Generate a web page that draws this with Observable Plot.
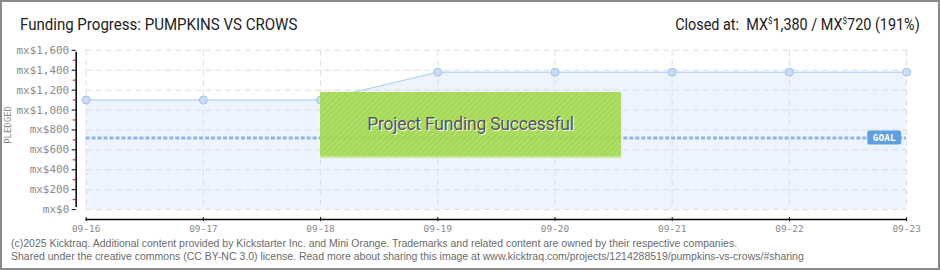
<!DOCTYPE html>
<html><head><meta charset="utf-8">
<script src="https://cdn.jsdelivr.net/npm/d3@7"></script>
<script src="https://cdn.jsdelivr.net/npm/@observablehq/plot@0.6"></script>
<style>
body{margin:0;background:#fff}
#wrap{position:relative;width:940px;height:270px;box-sizing:border-box;border:2px solid #8a8a8a;overflow:hidden;font-family:Roboto,sans-serif}
#chart{position:absolute;left:-2px;top:-2px}
#title{position:absolute;left:18px;top:13px;font-size:16px;color:#222;transform:scaleX(0.94);transform-origin:left center;white-space:nowrap}
#closed{position:absolute;right:18px;top:13px;font-size:16px;color:#222;transform:scaleX(0.9);transform-origin:right center;white-space:nowrap}
#closed sup{font-size:9px;vertical-align:6px}
#banner{position:absolute;left:318px;top:90px;width:301px;height:66px;background:#a5dc4f;opacity:0.93;
 background-image:repeating-linear-gradient(135deg,rgba(255,255,255,0.06) 0 2px,rgba(0,0,0,0.03) 2px 4px);
 border-bottom:2px solid #c6e98f;box-sizing:border-box;display:flex;align-items:center;justify-content:center;
 font-size:17.5px;color:#4a4a4a;text-shadow:1px 1px 0 #fff;letter-spacing:-0.2px}
#footer{position:absolute;left:9px;top:235px;font-family:"Liberation Sans",sans-serif;font-size:10.5px;line-height:12.5px;color:#6b6b6b;white-space:nowrap}
</style></head>
<body>
<div id="wrap">
  <div id="chartholder"></div>
  <div id="title">Funding Progress: PUMPKINS VS CROWS</div>
  <div id="closed">Closed at:&nbsp; MX<sup>$</sup>1,380 / MX<sup>$</sup>720 (191%)</div>
  <div id="banner">Project Funding Successful</div>
  <div id="footer">(c)2025 Kicktraq. Additional content provided by Kickstarter Inc. and Mini Orange. Trademarks and related content are owned by their respective companies.<br>Shared under the creative commons (CC BY-NC 3.0) license. Read more about sharing this image at www.kicktraq.com/projects/1214288519/pumpkins-vs-crows/#sharing</div>
</div>
<script>
const dates = ["2025-09-16","2025-09-17","2025-09-18","2025-09-19","2025-09-20","2025-09-21","2025-09-22","2025-09-23"];
const pledged = [1100,1100,1100,1380,1380,1380,1380,1380];
const goal = 720;
const yTicks = [0,200,400,600,800,1000,1200,1400,1600];
const yMinorTicks = [100,300,500,700,900,1100,1300,1500];
const xTickLabels = ["09-16","09-17","09-18","09-19","09-20","09-21","09-22","09-23"];

const data = dates.map((d,i)=>({date:new Date(d+"T00:00:00Z"), pledged:pledged[i]}));
const xDates = data.map(d=>d.date);
const fmtY = v => "mx$" + d3.format(",")(v);
const fmtX = d => xTickLabels[xDates.findIndex(x=>+x===+d)];

const mono = "DejaVu Sans Mono";
const chart = Plot.plot({
  width: 940, height: 270,
  marginLeft: 86, marginRight: 30, marginTop: 50, marginBottom: 60,
  style: {fontFamily: mono, fontSize: "10px", color:"#888", background:"transparent"},
  x: {type:"utc", domain:[xDates[0], xDates[xDates.length-1]], axis:null},
  y: {domain:[0,1600], axis:null},
  marks: [
    Plot.areaY(data, {x:"date", y:"pledged", fill:"#edf4fd"}),
    Plot.gridY(yTicks, {stroke:"#d9dde3", strokeOpacity:1, strokeDasharray:"6,4"}),
    Plot.gridX(xDates, {stroke:"#d9dde3", strokeOpacity:1, strokeDasharray:"6,4"}),
    Plot.ruleY([goal], {stroke:"#8fb5e2", strokeWidth:3, strokeDasharray:"4,2"}),
    Plot.line(data, {x:"date", y:"pledged", stroke:"#aacbef", strokeWidth:1}),
    Plot.dot(data, {x:"date", y:"pledged", r:4, fill:"#c9def6", stroke:"#9fc1e8", strokeWidth:1}),
    // y axis
    Plot.ruleX([xDates[0]], {y1:0, y2:1600, dx:-10, stroke:"#000", strokeWidth:1.5, insetTop:-2, insetBottom:-2}),
    Plot.axisY(yMinorTicks, {tickSize:3, dx:-10, stroke:"#e00", tickFormat:()=>"", label:null}),
    Plot.axisY(yTicks, {tickSize:4, dx:-10, stroke:"#000", tickFormat:fmtY, tickPadding:3, fill:"#8a8a8a", fontSize:11, label:null}),
    // x axis
    Plot.ruleY([0], {dy:10, stroke:"#000", strokeWidth:1.5}),
    Plot.axisX(xDates, {tickSize:4, dy:8, stroke:"#000", tickFormat:fmtX, tickPadding:4, fill:"#8a8a8a", fontSize:9.5, label:null}),
    Plot.text(["PLEDGED"], {frameAnchor:"left", textAnchor:"middle", dx:-78, dy:-5, rotate:-90, fill:"#888", fontSize:9, fontFamily:mono})
  ]
});
chart.id = "chart";
document.getElementById("chartholder").appendChild(chart);

// GOAL label positioned through the plot's scales
const ys = chart.scale("y"), xs = chart.scale("x");
const gy = ys.apply(goal), xr = xs.apply(xDates[xDates.length-1]);
const ns = "http://www.w3.org/2000/svg";
const g = document.createElementNS(ns,"g");
const r = document.createElementNS(ns,"rect");
r.setAttribute("x", xr-39); r.setAttribute("y", gy-7); r.setAttribute("width",34); r.setAttribute("height",14);
r.setAttribute("rx",2); r.setAttribute("fill","#5d9fe0");
const t = document.createElementNS(ns,"text");
t.setAttribute("x", xr-22); t.setAttribute("y", gy+4); t.setAttribute("text-anchor","middle");
t.setAttribute("fill","#fff"); t.setAttribute("font-size","9.5"); t.setAttribute("font-family","DejaVu Sans Mono");
t.setAttribute("font-weight","bold");
t.textContent = "GOAL";
g.appendChild(r); g.appendChild(t); chart.appendChild(g);
</script>
</body></html>
